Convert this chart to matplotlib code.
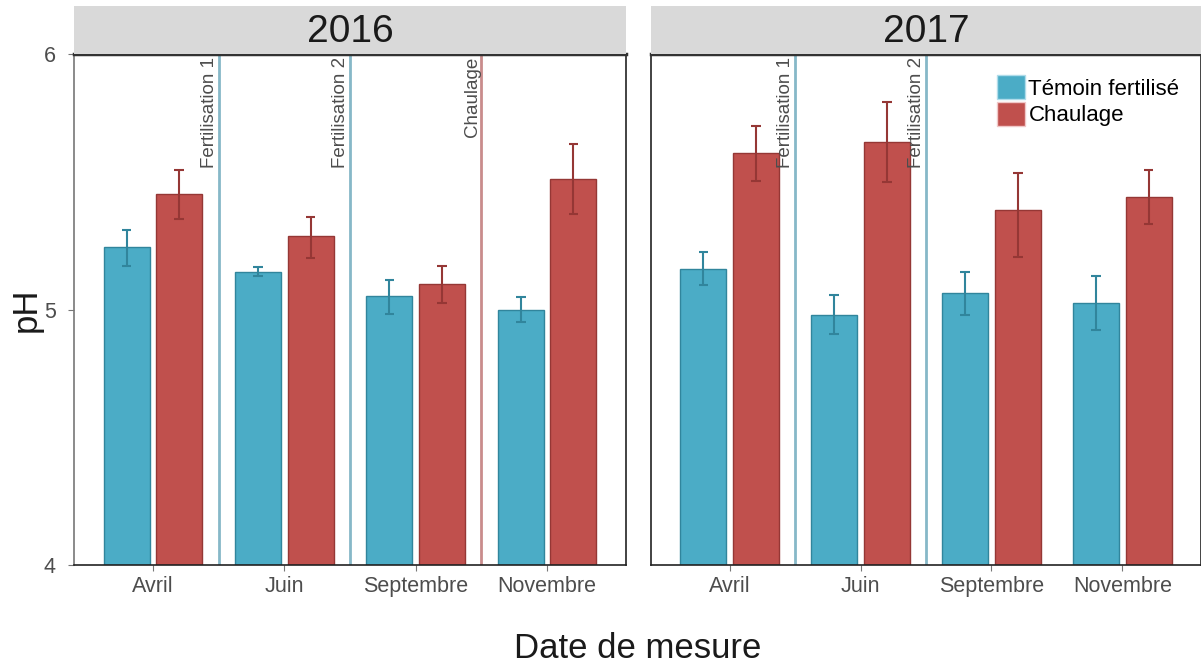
import matplotlib
matplotlib.use("Agg")
import matplotlib.pyplot as plt
import numpy as np
from matplotlib.patches import Patch

plt.rcParams['font.family'] = ['Liberation Sans', 'DejaVu Sans']

months = ["Avril", "Juin", "Septembre", "Novembre"]
years = ["2016", "2017"]
series = ["Témoin fertilisé", "Chaulage"]

temoin_2016 = [5.245, 5.147, 5.053, 5.000]
temoin_2016_lo = [5.170, 5.131, 4.982, 4.951]
temoin_2016_hi = [5.312, 5.166, 5.115, 5.049]
chaulage_2016 = [5.452, 5.288, 5.100, 5.511]
chaulage_2016_lo = [5.354, 5.202, 5.025, 5.374]
chaulage_2016_hi = [5.546, 5.362, 5.170, 5.648]

temoin_2017 = [5.159, 4.979, 5.065, 5.025]
temoin_2017_lo = [5.096, 4.904, 4.979, 4.920]
temoin_2017_hi = [5.225, 5.057, 5.147, 5.131]
chaulage_2017 = [5.613, 5.656, 5.389, 5.440]
chaulage_2017_lo = [5.503, 5.499, 5.205, 5.335]
chaulage_2017_hi = [5.718, 5.812, 5.534, 5.546]

events_2016 = [(1.5, "Fertilisation 1", "fert"), (2.5, "Fertilisation 2", "fert"), (3.5, "Chaulage", "chaul")]
events_2017 = [(1.5, "Fertilisation 1", "fert"), (2.5, "Fertilisation 2", "fert")]

fill_colors = ["#4BACC6", "#C0504D"]
edge_colors = ["#31859C", "#953735"]
err_colors = ["#31859C", "#953735"]
line_colors = {"fert": "#86B8C8", "chaul": "#C98C8C"}

W, H = 1201, 668
fig = plt.figure(figsize=(W / 100, H / 100), dpi=100)

def ax_rect(x0, y0, x1, y1):
    return [x0 / W, 1 - y1 / H, (x1 - x0) / W, (y1 - y0) / H]

panels = [
    (74, 626, years[0], (temoin_2016, temoin_2016_lo, temoin_2016_hi),
     (chaulage_2016, chaulage_2016_lo, chaulage_2016_hi), events_2016, True),
    (651, 1201, years[1], (temoin_2017, temoin_2017_lo, temoin_2017_hi),
     (chaulage_2017, chaulage_2017_lo, chaulage_2017_hi), events_2017, False),
]

top, bottom = 54, 565
x = np.arange(1, len(months) + 1)
bw = 0.35
off = 0.2

for (x0, x1, year, t, c, events, first) in panels:
    ax = fig.add_axes(ax_rect(x0, top, x1, bottom))
    strip = fig.add_axes(ax_rect(x0, 6, x1, top))
    strip.set_facecolor("#D9D9D9")
    strip.set_xticks([]); strip.set_yticks([])
    for s in strip.spines.values():
        s.set_visible(False)
    strip.text(0.5, 0.45, year, ha="center", va="center", fontsize=28, color="#1a1a1a",
               transform=strip.transAxes)

    for i, (vals, lo, hi) in enumerate([t, c]):
        pos = x + (-off if i == 0 else off)
        ax.bar(pos, np.array(vals) - 4, bottom=4, width=bw, color=fill_colors[i],
               edgecolor=edge_colors[i], linewidth=1.0, zorder=2)
        ax.vlines(pos, lo, hi, color=err_colors[i], linewidth=1.5, zorder=3)
        ax.hlines(lo, pos - 0.037, pos + 0.037, color=err_colors[i], linewidth=1.5, zorder=3)
        ax.hlines(hi, pos - 0.037, pos + 0.037, color=err_colors[i], linewidth=1.5, zorder=3)

    for (ex, lab, kind) in events:
        ax.axvline(ex, color=line_colors[kind], linewidth=2, zorder=1)
        ax.text(ex - 0.005, 5.99, lab, rotation=90, ha="right", va="top",
                fontsize=13.5, color="#4d4d4d", zorder=4)

    ax.set_xlim(0.4, 4.6)
    ax.set_ylim(4, 6)
    ax.set_xticks(x)
    ax.set_xticklabels(months, fontsize=15.5, color="#4d4d4d")
    ax.set_yticks([4, 5, 6])
    if first:
        ax.set_yticklabels(["4", "5", "6"], fontsize=15.5, color="#4d4d4d")
        ax.tick_params(axis="y", length=4, color="#777777", pad=9)
    else:
        ax.tick_params(axis="y", length=0, labelleft=False)
    ax.tick_params(axis="x", length=4, color="#777777", pad=4)
    for name, s in ax.spines.items():
        s.set_color("#222222")
        s.set_linewidth(1.2)
    ax.spines["left"].set_color("#777777" if first else "#222222")
    ax.spines["top"].set_color("#333333")
    ax.spines["top"].set_linewidth(2.5)

    if not first:
        handles = [Patch(facecolor=fill_colors[k], edgecolor="#f0c8c8" if k else "#b0dcea", label=series[k])
                   for k in range(2)]
        ax.legend(handles=handles, loc="upper right", bbox_to_anchor=(0.985, 0.985),
                  frameon=False, fontsize=16, handlelength=1.25, handleheight=1.3,
                  handletextpad=0.15, labelspacing=0.1, borderaxespad=0.2)

fig.text(26 / W, 1 - 310 / H, "pH", rotation=90, ha="center", va="center",
         fontsize=25, color="#1a1a1a")
fig.text((74 + 1201) / 2 / W, 1 - 648 / H, "Date de mesure", ha="center", va="center",
         fontsize=25, color="#1a1a1a")

fig.savefig("out.png", dpi=100)
